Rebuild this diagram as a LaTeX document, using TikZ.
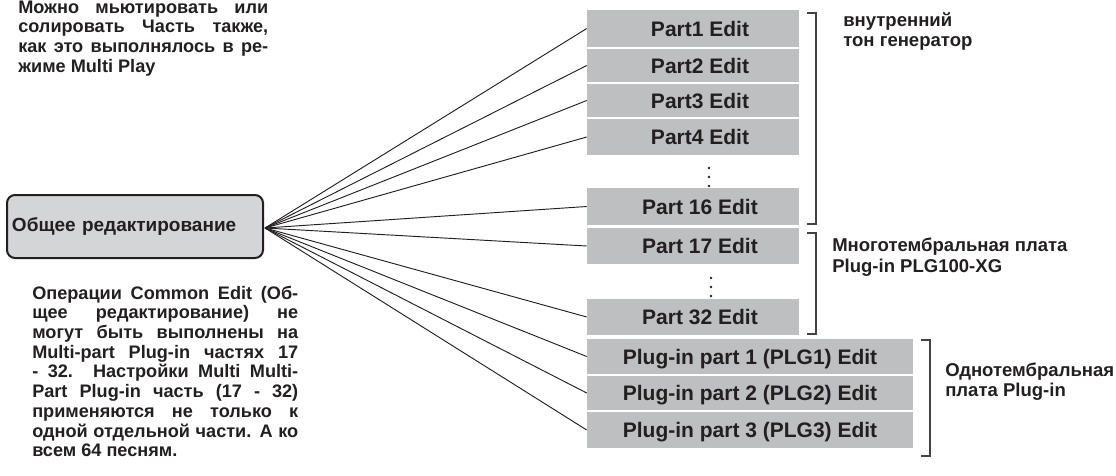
\documentclass[tikz,border=0pt]{standalone}
\usepackage{fontspec}
\setmainfont{Liberation Sans}
\usepackage{xcolor}
\usepackage{tikz}
\usetikzlibrary{positioning, calc}

\definecolor{boxgray}{RGB}{190,191,193}
\definecolor{maingray}{RGB}{212,213,215}
\definecolor{inkblack}{RGB}{35,31,32}

\begin{document}
\begin{tikzpicture}[
    x=0.75pt, y=-0.75pt,
    partbox/.style={rectangle, fill=boxgray, minimum width=159pt, minimum height=26.25pt, inner sep=0pt, text height=11.3pt, text depth=0pt, font=\fontsize{15.75}{18}\selectfont\bfseries, text=inkblack},
    plgbox/.style={partbox, minimum width=244.5pt},
    mainbox/.style={rectangle, draw=inkblack, line width=1.5pt, fill=maingray, rounded corners=6pt, minimum width=192pt, minimum height=47.25pt, text width=184.5pt, align=left, font=\fontsize{14.25}{17}\selectfont\bfseries, text=inkblack},
    notetext/.style={anchor=base west, inner sep=0pt, font=\fontsize{13.6}{14.8}\selectfont\bfseries, text=inkblack},
    grouplabel/.style={anchor=base west, inner sep=0pt, align=left, font=\fontsize{13.9}{15}\selectfont\bfseries, text=inkblack},
    link/.style={draw=inkblack, line width=0.7pt},
    bracket/.style={draw=inkblack!85, line width=1.1pt}
]
\useasboundingbox (0,0) rectangle (1116,475);

% Common edit box and the point where the lines meet
\node[mainbox] (common) at (135,226.5) {Общее редактирование};
\coordinate (hub) at (265,228);

% Internal tone generator parts
\node[partbox, minimum height=27.75pt] (p1) at (693,28.5) {\hspace*{10.5pt}Part1 Edit};
\node[partbox, minimum height=24.75pt] (p2) at (693,65.5) {\hspace*{10.5pt}Part2 Edit};
\node[partbox, minimum height=24.75pt] (p3) at (693,100.5) {\hspace*{10.5pt}Part3 Edit};
\node[partbox, minimum height=27pt] (p4) at (693,137) {\hspace*{10.5pt}Part4 Edit};
\node[partbox, minimum height=27.75pt] (p16) at (693,206.5) {\hspace*{10.5pt}Part 16 Edit};

% Multi-part plug-in parts
\node[partbox, minimum height=27pt] (p17) at (693,246) {\hspace*{10.5pt}Part 17 Edit};
\node[partbox, minimum height=27pt] (p32) at (693,317) {\hspace*{10.5pt}Part 32 Edit};

% Single-part plug-in parts
\node[plgbox] (g1) at (750,356.5) {Plug-in part 1 (PLG1) Edit};
\node[plgbox, minimum height=25.5pt] (g2) at (750,393) {Plug-in part 2 (PLG2) Edit};
\node[plgbox, minimum height=27pt] (g3) at (750,430) {Plug-in part 3 (PLG3) Edit};

% vertical dots
\foreach \y in {168,177,186} \fill[inkblack] (709,\y) circle (1.1pt);
\foreach \y in {278,287,296} \fill[inkblack] (711,\y) circle (1.1pt);

% Fan of lines
\foreach \n in {p1,p2,p3,p4,p16,p17,p32,g1,g2,g3}
    \draw[link] (hub) -- (\n.west);

% Brackets
\draw[bracket] (807,13) -- (816,13) -- (816,224) -- (807,224);
\draw[bracket] (807,233) -- (816,233) -- (816,334) -- (807,334);
\draw[bracket] (921,340) -- (930,340) -- (930,456) -- (921,456);

% Group labels
\node[grouplabel] (intlabel) at (843,46) {внутренний\\тон генератор};
\node[grouplabel, font=\fontsize{13.9}{15.75}\selectfont\bfseries] (multilabel) at (832,272) {Многотембральная плата\\Plug-in PLG100-XG};
\node[grouplabel] (singlelabel) at (945,396) {Однотембральная\\плата Plug-in};

% Notes
\node[notetext] (topnote) at (18,13) {\parbox[t]{187.5pt}{\hyphenpenalty=10000\tolerance=10000
Можно мьютировать или\linebreak солировать Часть также,\linebreak как это выполнялось в ре-\linebreak жиме Multi Play}};
\node[notetext] (bottomnote) at (32,299) {\parbox[t]{199.5pt}{\hyphenpenalty=10000\tolerance=10000
Операции Common Edit (Об-\linebreak щее редактирование) не\linebreak могут быть выполнены на\linebreak Multi-part Plug-in частях 17\linebreak - 32. Настройки Multi Multi-\linebreak Part Plug-in часть (17 - 32)\linebreak применяются не только к\linebreak одной отдельной части. А ко\linebreak всем 64 песням.}};

\end{tikzpicture}
\end{document}
